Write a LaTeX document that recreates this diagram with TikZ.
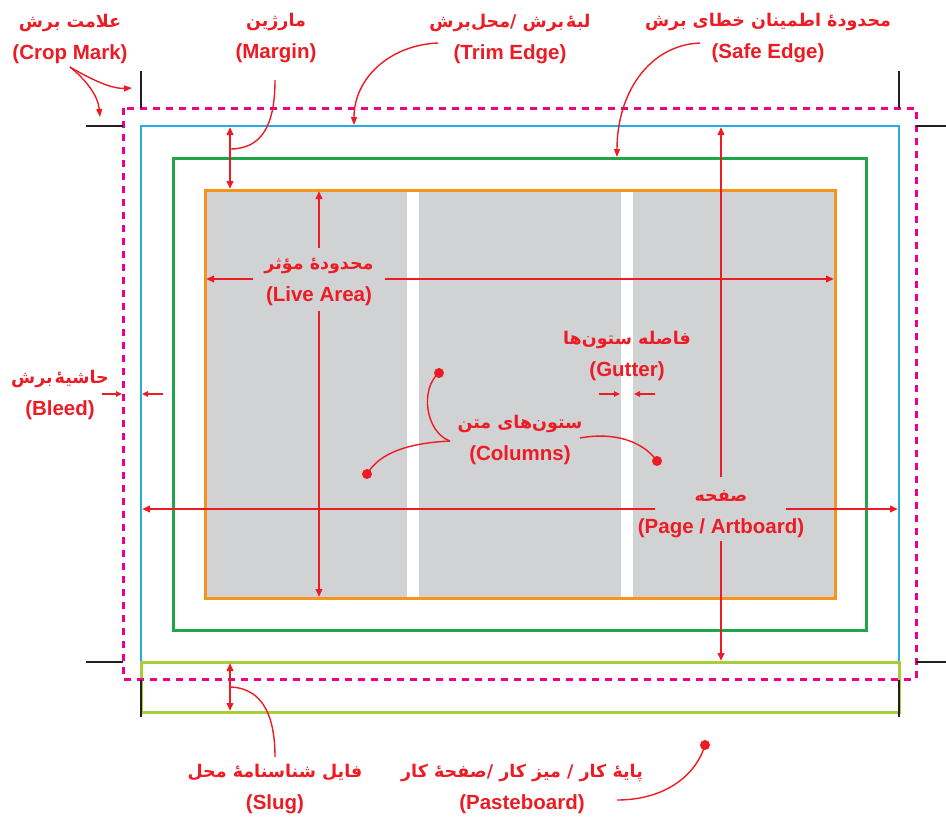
\documentclass[tikz,border=0pt]{standalone}
\usepackage{fontspec}
\setmainfont{Liberation Sans}
\newfontfamily\fa[Script=Arabic]{DejaVu Sans}
\TeXXeTstate=1
\usetikzlibrary{arrows.meta}
\definecolor{rd}{HTML}{ED1C24}
\definecolor{mag}{HTML}{EC008C}
\definecolor{trimblue}{HTML}{29ABE2}
\definecolor{safegreen}{HTML}{1FA64A}
\definecolor{liveorange}{HTML}{F7941D}
\definecolor{sluggreen}{HTML}{A6CE39}
\definecolor{cropblack}{HTML}{231F20}
\definecolor{colgray}{HTML}{D1D2D4}
\newcommand{\twolines}[2]{{\fa\fontsize{17.5}{32}\selectfont\beginR #1\endR}\\#2}
\tikzset{
  lbl/.style={align=center, text=rd, inner sep=0pt,
    font=\bfseries\fontsize{20.5}{32}\selectfont},
  arr/.style={draw=rd, line width=2pt, -{Triangle[length=8pt,width=6.5pt]}},
  dblarr/.style={draw=rd, line width=2pt, {Triangle[length=8pt,width=6.5pt]}-{Triangle[length=8pt,width=6.5pt]}},
  smallarr/.style={draw=rd, line width=1.8pt, -{Triangle[length=6pt,width=5.5pt]}},
  curv/.style={draw=rd, line width=1.4pt},
  curvarr/.style={draw=rd, line width=1.4pt, -{Triangle[length=8pt,width=6pt]}},
  dotmark/.style={circle, fill=rd, inner sep=0pt, minimum size=10pt},
  cropline/.style={draw=cropblack, line width=2.5pt},
}
\begin{document}
\begin{tikzpicture}[x=1pt,y=-1pt]
\useasboundingbox (0,0) rectangle (946,817);
% ---------- columns
\fill[colgray] (205,190) rectangle (407,598);
\fill[colgray] (419,190) rectangle (621,598);
\fill[colgray] (633,190) rectangle (835,598);
% ---------- frames
\draw[liveorange, line width=3pt] (205,190) rectangle (835,598);
\draw[safegreen, line width=3pt] (173,158) rectangle (866,630);
\draw[trimblue, line width=2.5pt] (141,126) rectangle (899,662);
\draw[sluggreen, line width=3pt] (141,662) rectangle (899,712);
\draw[mag, line width=3pt, dash pattern=on 7pt off 6pt] (123,108) rectangle (916,679);
% ---------- crop marks
\coordinate (tlV1) at (141,71);  \coordinate (tlV2) at (141,108);
\coordinate (tlH1) at (86,126);  \coordinate (tlH2) at (123,126);
\coordinate (trV1) at (899,71);  \coordinate (trV2) at (899,108);
\coordinate (trH1) at (916,126); \coordinate (trH2) at (953,126);
\coordinate (blH1) at (86,662);  \coordinate (blH2) at (123,662);
\coordinate (blV1) at (141,680); \coordinate (blV2) at (141,717);
\coordinate (brH1) at (916,662); \coordinate (brH2) at (953,662);
\coordinate (brV1) at (899,680); \coordinate (brV2) at (899,717);
\draw[cropline] (tlV1) -- (tlV2);
\draw[cropline] (tlH1) -- (tlH2);
\draw[cropline] (trV1) -- (trV2);
\draw[cropline] (trH1) -- (trH2);
\draw[cropline] (blH1) -- (blH2);
\draw[cropline] (blV1) -- (blV2);
\draw[cropline] (brH1) -- (brH2);
\draw[cropline] (brV1) -- (brV2);
% ---------- labels
\node[lbl] (crop)   at (70,39)   {\twolines{علامت برش}{(Crop Mark)}};
\node[lbl] (margin) at (276,38)  {\twolines{مارژین}{(Margin)}};
\node[lbl] (trim)   at (510,39)  {\twolines{لبهٔ‌\kern2pt برش /محل‌برش}{(Trim Edge)}};
\node[lbl] (safe)   at (768,38)  {\twolines{محدودهٔ اطمینان خطای برش}{(Safe Edge)}};
\node[lbl] (live)   at (319,282) {\twolines{محدودهٔ مؤثر}{(Live Area)}};
\node[lbl] (bleed)  at (60,395)  {\twolines{حاشیهٔ‌\kern2pt برش}{(Bleed)}};
\node[lbl] (gutter) at (627,356) {\twolines{فاصله ستون‌ها}{(Gutter)}};
\node[lbl] (cols)   at (520,440) {\twolines{ستون‌های متن}{(Columns)}};
\node[lbl] (page)   at (721,514) {\twolines{صفحه}{(Page / Artboard)}};
\node[lbl] (slug)   at (275,789) {\twolines{فایل شناسنامهٔ محل}{(Slug)}};
\node[lbl] (paste)  at (522,789) {\twolines{پایهٔ کار / میز کار /صفحهٔ کار}{(Pasteboard)}};
% ---------- crop mark arrows
\coordinate (cmS) at (70,67);
\coordinate (cmV) at (132,88);
\coordinate (cmH) at (100,117);
\draw[curvarr] (cmS) .. controls (92,80) and (112,89) .. (cmV);
\draw[curvarr] (cmS) .. controls (85,79) and (98,95) .. (cmH);
% ---------- margin
\coordinate (mgT) at (230,127); \coordinate (mgB) at (230,189);
\draw[dblarr] (mgT) -- (mgB);
\coordinate (mgS) at (275,80); \coordinate (mgE) at (230,149);
\draw[curv] (mgS) .. controls (275,125) and (262,149) .. (mgE);
% ---------- trim & safe edge
\coordinate (trS) at (438,43); \coordinate (trE) at (354,125);
\draw[curvarr] (trS) .. controls (390,45) and (354,78) .. (trE);
\coordinate (sfS) at (700,43); \coordinate (sfE) at (617,157);
\draw[curvarr] (sfS) .. controls (650,45) and (617,92) .. (sfE);
% ---------- live area
\coordinate (lvGL) at (253,279); \coordinate (lvL) at (206,279);
\coordinate (lvGR) at (385,279); \coordinate (lvR) at (834,279);
\coordinate (lvGT) at (319,248); \coordinate (lvT) at (319,191);
\coordinate (lvGB) at (319,311); \coordinate (lvB) at (319,597);
\draw[arr] (lvGL) -- (lvL);
\draw[arr] (lvGR) -- (lvR);
\draw[arr] (lvGT) -- (lvT);
\draw[arr] (lvGB) -- (lvB);
% ---------- page
\coordinate (pgGL) at (655,509); \coordinate (pgL) at (142,509);
\coordinate (pgGR) at (786,509); \coordinate (pgR) at (898,509);
\coordinate (pgGT) at (721,477); \coordinate (pgT) at (721,127);
\coordinate (pgGB) at (721,541); \coordinate (pgB) at (721,661);
\draw[arr] (pgGL) -- (pgL);
\draw[arr] (pgGR) -- (pgR);
\draw[arr] (pgGT) -- (pgT);
\draw[arr] (pgGB) -- (pgB);
% ---------- bleed
\coordinate (blA1) at (102,394); \coordinate (blA2) at (122,394);
\coordinate (blB1) at (163,394); \coordinate (blB2) at (142,394);
\draw[smallarr] (blA1) -- (blA2);
\draw[smallarr] (blB1) -- (blB2);
% ---------- gutter
\coordinate (gtA1) at (599,394); \coordinate (gtA2) at (620,394);
\coordinate (gtB1) at (655,394); \coordinate (gtB2) at (634,394);
\draw[smallarr] (gtA1) -- (gtA2);
\draw[smallarr] (gtB1) -- (gtB2);
% ---------- columns
\node[dotmark] (d1) at (439,373) {};
\node[dotmark] (d2) at (367,474) {};
\node[dotmark] (d3) at (657,461) {};
\coordinate (coS) at (450,441);
\coordinate (coR) at (580,438);
\draw[curv] (coS) .. controls (425,432) and (420,388) .. (d1.center);
\draw[curv] (coS) .. controls (410,443) and (380,452) .. (d2.center);
\draw[curv] (coR) .. controls (612,432) and (642,440) .. (d3.center);
% ---------- slug
\coordinate (slT) at (230,663); \coordinate (slB) at (230,711);
\draw[dblarr] (slT) -- (slB);
\coordinate (slS) at (230,687); \coordinate (slE) at (275,757);
\draw[curv] (slS) .. controls (265,688) and (275,720) .. (slE);
% ---------- pasteboard
\node[dotmark] (d4) at (705,745) {};
\coordinate (psS) at (617,800);
\draw[curv] (psS) .. controls (662,800) and (695,778) .. (d4.center);
\end{tikzpicture}
\end{document}
